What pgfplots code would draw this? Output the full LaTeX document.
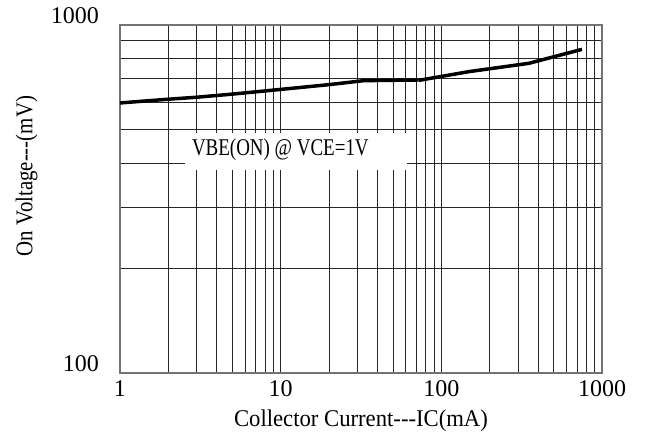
\documentclass[border=0pt]{standalone}
\usepackage{pgfplots}
\pgfplotsset{compat=1.18}
\usepackage{fontspec}
\setmainfont{Liberation Serif}
\usepackage{graphicx}
\begin{document}
\begin{tikzpicture}
\useasboundingbox (-120pt,-68pt) rectangle (532pt,373pt);
\begin{axis}[
  at={(0,0)}, anchor=south west,
  scale only axis, width=482pt, height=348pt,
  xmode=log, ymode=log,
  xmin=1, xmax=1000, ymin=100, ymax=1000,
  xtick={1,10,100,1000}, xticklabels={1,10,100,1000},
  ytick={100,1000}, yticklabels={100,1000},
  minor xtick={2,3,4,5,6,7,8,9,20,30,40,50,60,70,80,90,200,300,400,500,600,700,800,900},
  minor ytick={200,300,400,500,600,700,800,900},
  grid=both,
  major grid style={black!85, line width=0.9pt},
  minor grid style={black!85, line width=0.9pt},
  tick style={draw=none},
  axis line style={draw=black!55, line width=1.6pt},
  font=\fontsize{24}{26}\selectfont,
  xticklabel style={anchor=base, inner sep=0pt, yshift=-23.5pt, font=\fontsize{24}{26}\selectfont},
  yticklabel style={anchor=base east, inner sep=0pt, xshift=-21pt, yshift=1pt, font=\fontsize{24}{26}\selectfont},
  xlabel={\scalebox{0.945}[1]{Collector Current-{}-{}-IC(mA)}},
  ylabel={\scalebox{0.87}[1]{On Voltage-{}-{}-(mV)}},
  xlabel style={at={(axis description cs:0.5,-0.155)}, anchor=base, inner sep=0pt},
  ylabel style={at={(axis description cs:-0.182,0.566)}, anchor=base, inner sep=0pt, rotate=0},
  clip=false,
]
\fill[white] (axis cs:2.54,383) rectangle (axis cs:61,489);
\node[anchor=base west, inner sep=0pt, font=\fontsize{24}{26}\selectfont] at (axis cs:2.8,423) {\scalebox{0.79}[1]{VBE(ON) @ VCE=1V}};
\addplot[black, line width=3.5pt, line join=round] coordinates {
  (1,597) (2,612) (3,620) (5,633) (10,653) (20,674) (33,692) (72,695)
};
\addplot[black, line width=3.5pt, line join=round] coordinates {
  (72,693) (150,735) (350,776) (750,851)
};
\end{axis}
\end{tikzpicture}
\end{document}
